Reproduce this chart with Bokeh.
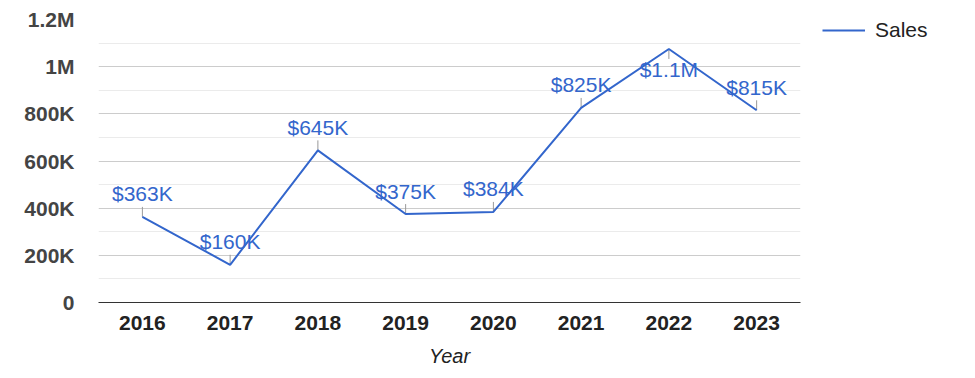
from bokeh.plotting import figure
from bokeh.models import (FactorRange, Range1d, FixedTicker, Legend, LegendItem,
                          ColumnDataSource)
from bokeh.embed import file_html
from bokeh.resources import INLINE
from bokeh.core.properties import value

years = ["2016", "2017", "2018", "2019", "2020", "2021", "2022", "2023"]
sales = [363000, 160000, 645000, 375000, 384000, 825000, 1075000, 815000]
y_ticks = [0, 200000, 400000, 600000, 800000, 1000000, 1200000]
y_tick_labels = ["0", "200K", "400K", "600K", "800K", "1M", "1.2M"]
y_minor_ticks = [100000, 300000, 500000, 700000, 900000, 1100000]
series_name = "Sales"
x_title = "Year"

FONT = "Liberation Sans"
BLUE = "#3366cc"
FRAME_W, FRAME_H = 702, 283
Y_END = 1200000


def fmt(v):
    if v >= 1000000:
        return "$%.1fM" % (v / 1e6)
    return "$%dK" % round(v / 1000)


p = figure(x_range=FactorRange(*years), y_range=Range1d(0, Y_END),
           frame_width=FRAME_W, frame_height=FRAME_H,
           min_border_left=98, min_border_right=167,
           min_border_top=19, min_border_bottom=68,
           output_backend="svg", toolbar_location=None,
           background_fill_color="white", border_fill_color="white")
p.outline_line_color = None

# axes
p.yaxis.ticker = FixedTicker(ticks=y_ticks, minor_ticks=y_minor_ticks)
p.yaxis.major_label_overrides = {t: l for t, l in zip(y_ticks, y_tick_labels)}
p.yaxis.axis_line_color = None
p.yaxis.major_tick_line_color = None
p.yaxis.minor_tick_line_color = None
p.yaxis.major_label_standoff = 18
p.yaxis.major_label_text_font = FONT
p.yaxis.major_label_text_font_size = "21px"
p.yaxis.major_label_text_font_style = "bold"
p.yaxis.major_label_text_color = "#444444"

p.xaxis.axis_line_color = "#333333"
p.xaxis.axis_line_width = 1
p.xaxis.major_tick_line_color = None
p.xaxis.minor_tick_line_color = None
p.xaxis.major_label_standoff = 7
p.xaxis.major_label_text_font = FONT
p.xaxis.major_label_text_font_size = "21px"
p.xaxis.major_label_text_font_style = "bold"
p.xaxis.major_label_text_color = "#222222"
p.xaxis.axis_label = x_title
p.xaxis.axis_label_text_font = FONT
p.xaxis.axis_label_text_font_size = "20px"
p.xaxis.axis_label_text_font_style = "italic"
p.xaxis.axis_label_text_color = "#222222"
p.xaxis.axis_label_standoff = 12

p.xgrid.grid_line_color = None
p.ygrid.grid_line_color = "#cccccc"
p.ygrid.minor_grid_line_color = "#ebebeb"

# data
px = Y_END / FRAME_H  # data units per pixel
above = [v + 32 * px <= Y_END for v in sales]
stem_end = [v + (10 * px if a else -10 * px) for v, a in zip(sales, above)]
src = ColumnDataSource(dict(
    x=years, y=sales, y1=stem_end,
    label=[fmt(v) for v in sales],
    off=[-23 if a else 21 for a in above],
))

p.segment(x0="x", y0="y", x1="x", y1="y1", source=src,
          line_color="#999999", line_width=1)
r = p.line(x="x", y="y", source=src, line_color=BLUE, line_width=2)
p.text(x="x", y="y", text="label", source=src, y_offset="off",
       text_align="center", text_baseline="alphabetic",
       text_font=value(FONT), text_font_size="21px", text_color=BLUE)

legend = Legend(items=[LegendItem(label=series_name, renderers=[r])],
                location=(22, 260), margin=0, padding=0,
                glyph_width=43, glyph_height=20, label_height=20,
                label_standoff=10, border_line_color=None,
                background_fill_alpha=0,
                label_text_font=FONT, label_text_font_size="21px",
                label_text_color="#222222")
p.add_layout(legend, "right")

open("out.html", "w").write(file_html(p, INLINE))
